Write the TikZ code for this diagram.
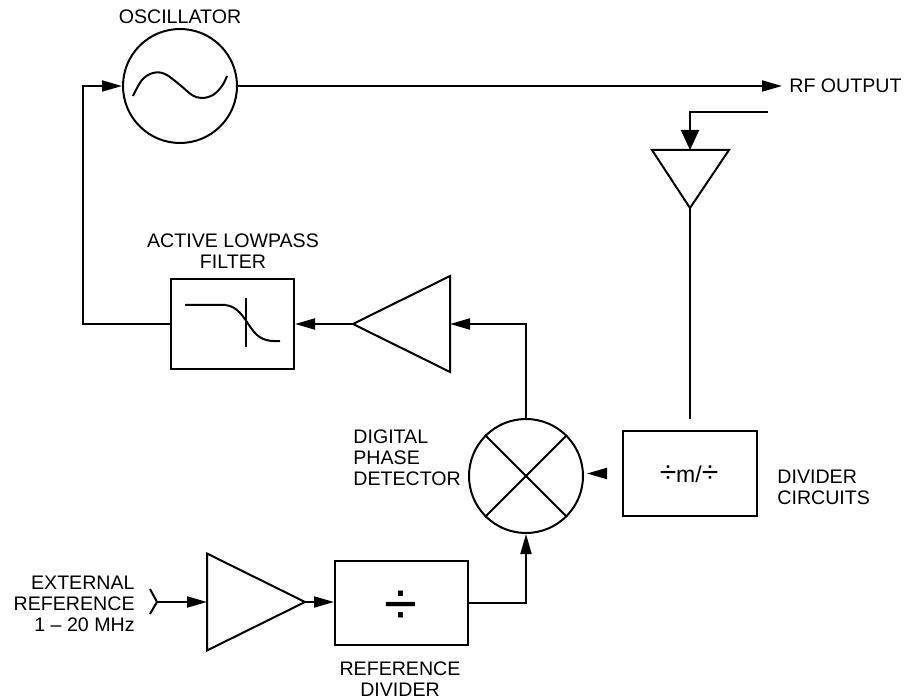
\documentclass[tikz,border=0pt]{standalone}
\usepackage{fontspec}
\setmainfont{Liberation Sans}
\usetikzlibrary{arrows.meta,calc}
\begin{document}
\begin{tikzpicture}[x=0.5pt,y=-0.5pt,
  every node/.style={font=\fontsize{9.8pt}{10.5pt}\selectfont, inner sep=0pt},
  ln/.style={line width=1pt, line join=miter},
  arr/.style={ln, -{Triangle[length=10pt,width=5.5pt]}},
  bigarr/.style={ln, -{Triangle[length=10pt,width=9pt]}},
  blk/.style={draw, line width=1pt, rectangle},
  rnd/.style={draw, line width=1pt, circle, minimum size=57pt},
  lbl/.style={align=center}
]
\useasboundingbox (0,0) rectangle (906,700);

% oscillator
\node[rnd] (osc) at (180,86) {};
\draw[ln] plot[smooth, tension=0.6] coordinates {(133,96) (142,80) (153,73) (165,74) (180,85) (192,95) (202,98) (213,95) (222,86) (227,76)};
\node[lbl] (osclbl) at (180,17) {OSCILLATOR};

% RF output
\coordinate (rfo) at (782,86);
\draw[arr] (osc.east) -- (rfo);
\node[anchor=west] (rflbl) at (789,86) {RF OUTPUT};

% tap and down amplifier
\coordinate (tap) at (768,112);
\coordinate (a3top) at (690,150);
\coordinate (a3apex) at (690,208);
\draw[ln] (652,150) -- (729,150) -- (a3apex) -- cycle;
\draw[bigarr] (tap) -| (a3top);

% divider circuits
\node[blk, minimum width=67pt, minimum height=42.5pt] (div) at (690,473.5) {};
\node (divtxt) at (689,474) {\fontsize{11.5pt}{12pt}\selectfont{\fontsize{15pt}{15pt}\selectfont ÷}m/{\fontsize{15pt}{15pt}\selectfont ÷}};
\node[anchor=west, align=left] (divlbl) at (777,487) {DIVIDER\\CIRCUITS};
\draw[ln, shorten >=5.5pt] (a3apex) -- (a3apex |- div.north);

% phase detector
\node[rnd] (pd) at (526,476) {};
\draw[ln] (pd.45) -- (pd.225);
\draw[ln] (pd.135) -- (pd.315);
\node[anchor=west, align=left] (pdlbl) at (353,458) {DIGITAL\\PHASE\\DETECTOR};
\draw[arr, shorten <=8pt, shorten >=1.5pt] (div.west) -- (div.west -| pd.east);

% loop amplifier
\coordinate (a2apex) at (353,324);
\coordinate (a2base) at (450,324);
\draw[ln] (450,276) -- (450,372) -- (a2apex) -- cycle;
\draw[arr] (pd.north) |- (a2base);

% active lowpass filter
\node[blk, minimum width=61.5pt, minimum height=45pt] (lpf) at (232.5,324) {};
\draw[ln] (185,305) -- (225,305) .. controls (238,306) and (244,318) .. (251,328) .. controls (258,338) and (265,342) .. (280,341);
\draw[ln] (246,298) -- (246,347);
\node[lbl] (lpflbl) at (233,251) {ACTIVE LOWPASS\\FILTER};
\draw[arr] (a2apex) -- (lpf.east);
\coordinate (fbl) at (83,324);
\draw[arr] (lpf.west) -- (fbl) |- (osc.west);

% reference chain
\draw[ln] (150,589) -- (157,602) -- (150,614);
\coordinate (ext) at (157,602);
\node[anchor=east, align=right] (extlbl) at (135,604) {EXTERNAL\\REFERENCE\\1 -- 20 MHz};
\coordinate (a1base) at (207,602);
\coordinate (a1apex) at (305,602);
\draw[ln] (207,553.5) -- (207,650.5) -- (a1apex) -- cycle;
\draw[arr] (ext) -- (a1base);
\node[blk, minimum width=66.5pt, minimum height=42pt] (ref) at (401.5,603) {};
\node (reftxt) at (401,608) {\fontsize{30pt}{30pt}\selectfont ÷};
\node[lbl] (reflbl) at (400,679) {REFERENCE\\DIVIDER};
\draw[arr] (a1apex) -- (a1apex -| ref.west);
\draw[arr] (ref.east) -| (pd.south);
\end{tikzpicture}
\end{document}
